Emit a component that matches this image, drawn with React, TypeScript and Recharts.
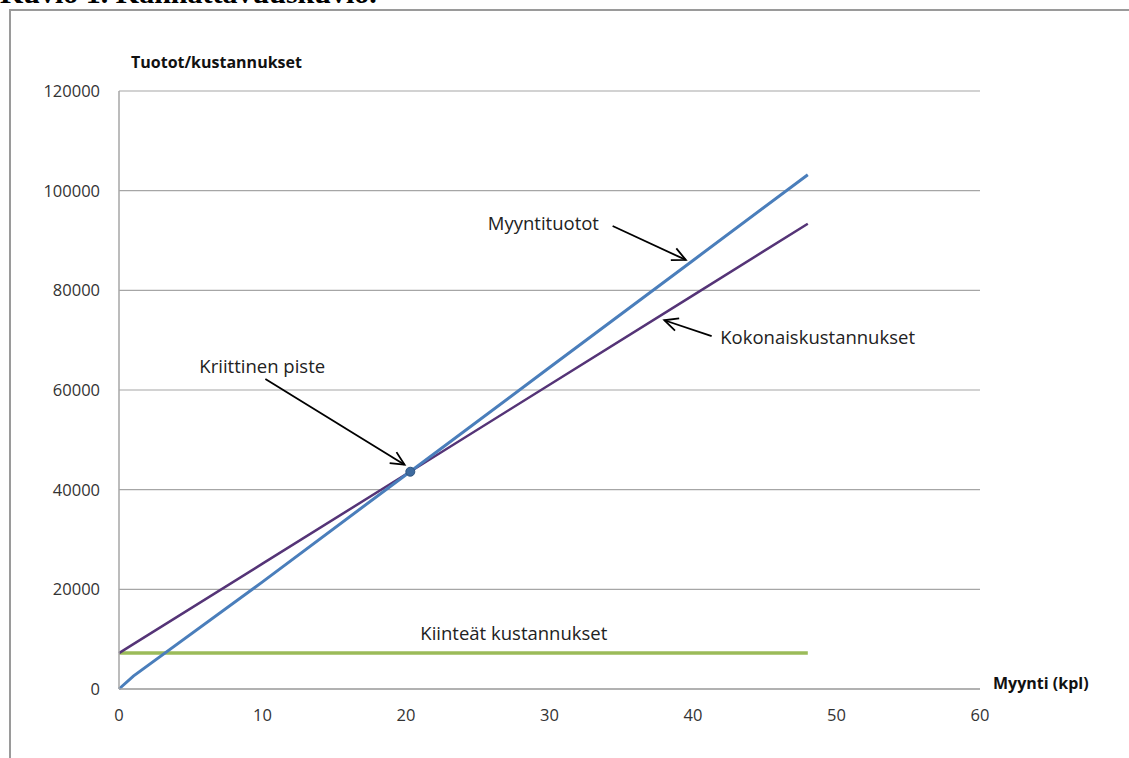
import { LineChart, Line, XAxis, YAxis, CartesianGrid, ReferenceLine, ReferenceDot } from 'recharts';

// sales volume (kpl) and the three curves
const qty = [0, 1, 10, 20, 30, 40, 48];
const revenue = [0, 2600, 21500, 43000, 64500, 86000, 103200];
const totalCost = [7200, 8995, 25150, 43100, 61050, 79000, 93360];
const fixedCost = [7200, 7200, 7200, 7200, 7200, 7200, 7200];

const xTicks = [0, 10, 20, 30, 40, 50, 60];
const yTicks = [0, 20000, 40000, 60000, 80000, 100000, 120000];

const breakEven = { x: 20.3, y: 43600 };

const labels = [
    { text: 'Myyntituotot', x: 25.7, y: 93700 },
    { text: 'Kokonaiskustannukset', x: 41.9, y: 70800 },
    { text: 'Kriittinen piste', x: 5.6, y: 65000 },
    { text: 'Kiinteät kustannukset', x: 21.0, y: 11400 },
];

const arrows = [
    { from: { x: 34.4, y: 92900 }, to: { x: 39.5, y: 86100 } },
    { from: { x: 41.3, y: 70800 }, to: { x: 38.0, y: 74000 } },
    { from: { x: 10.2, y: 62200 }, to: { x: 19.9, y: 45000 } },
];

const data = qty.map((q, i) => ({
    qty: q,
    revenue: revenue[i],
    total: totalCost[i],
    fixed: fixedCost[i],
}));

const font = '"Open Sans", "Noto Sans", sans-serif';

const ArrowShape = (props: any) => {
    const { x1, y1, x2, y2 } = props;
    const a = Math.atan2(y2 - y1, x2 - x1);
    const len = 15;
    const spread = 0.45;
    const p1 = [x2 - len * Math.cos(a - spread), y2 - len * Math.sin(a - spread)];
    const p2 = [x2 - len * Math.cos(a + spread), y2 - len * Math.sin(a + spread)];
    return (
        <g>
            <line x1={x1} y1={y1} x2={x2} y2={y2} stroke="#000" strokeWidth={1.8} />
            <path d={`M${p1[0]},${p1[1]} L${x2},${y2} L${p2[0]},${p2[1]}`} fill="none" stroke="#000" strokeWidth={1.8} />
        </g>
    );
};

const makeLabel = (text: string) => (p: any) => (
    <text x={p.cx} y={p.cy} dominantBaseline="central" fontSize={18.5} fill="#222" fontFamily={font}>
        {text}
    </text>
);

export default function App() {
    return (
        <div style={{ position: 'fixed', left: 0, top: 0, width: 1129, height: 758, overflow: 'hidden', background: '#fff', fontFamily: font }}>
            <div style={{ position: 'absolute', left: 0, top: -24, fontFamily: '"Liberation Serif", serif', fontWeight: 'bold', fontSize: 30, whiteSpace: 'nowrap' }}>
                Kuvio 1. Kannattavuuskuvio.
            </div>
            <div style={{ position: 'absolute', left: 9, top: 9, width: 1300, height: 900, border: '2px solid #9a9a9a' }} />
            <div style={{ position: 'absolute', left: 131, top: 51, fontWeight: 'bold', fontSize: 16, color: '#111' }}>
                Tuotot/kustannukset
            </div>
            <div style={{ position: 'absolute', left: 993, top: 672, fontWeight: 'bold', fontSize: 16, color: '#111' }}>
                Myynti (kpl)
            </div>
            <div style={{ position: 'absolute', left: 0, top: 0 }}>
                <LineChart width={1129} height={758} data={data} margin={{ top: 91, right: 149, left: 0, bottom: 39 }}>
                    <CartesianGrid vertical={false} stroke="#a6a6a6" strokeWidth={1.2} />
                    <XAxis
                        type="number"
                        dataKey="qty"
                        domain={[0, 60]}
                        ticks={xTicks}
                        height={30}
                        axisLine={{ stroke: '#a6a6a6', strokeWidth: 1.5 }}
                        tickLine={false}
                        tickSize={0}
                        tickMargin={20}
                        tick={{ fill: '#333', fontSize: 16.5, fontFamily: font }}
                    />
                    <YAxis
                        type="number"
                        domain={[0, 120000]}
                        ticks={yTicks}
                        width={119}
                        axisLine={{ stroke: '#a6a6a6', strokeWidth: 1.5 }}
                        tickLine={false}
                        tickSize={0}
                        tickMargin={19}
                        tick={{ fill: '#333', fontSize: 16.5, fontFamily: font }}
                    />
                    <Line type="linear" dataKey="fixed" stroke="#9bbb59" strokeWidth={3.5} dot={false} isAnimationActive={false} />
                    <Line type="linear" dataKey="total" stroke="#553477" strokeWidth={2.5} dot={false} isAnimationActive={false} />
                    <Line type="linear" dataKey="revenue" stroke="#4a7ebb" strokeWidth={3} dot={false} isAnimationActive={false} />
                    <ReferenceDot x={breakEven.x} y={breakEven.y} r={4.5} fill="#3d6a9e" stroke="#2f5580" strokeWidth={1} />
                    {arrows.map((a, i) => (
                        <ReferenceLine key={`a${i}`} segment={[a.from, a.to]} shape={ArrowShape} />
                    ))}
                    {labels.map((l) => (
                        <ReferenceDot key={l.text} x={l.x} y={l.y} r={0} shape={makeLabel(l.text)} />
                    ))}
                </LineChart>
            </div>
        </div>
    );
}
